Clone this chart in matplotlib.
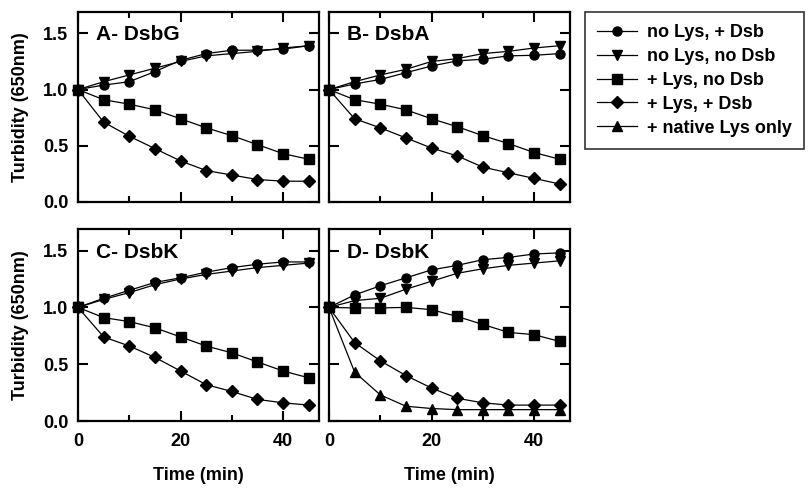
import numpy as np
import matplotlib
matplotlib.use("Agg")
import matplotlib.pyplot as plt
from matplotlib.ticker import FormatStrFormatter

plt.rcParams['font.family'] = ['Liberation Sans', 'DejaVu Sans']
plt.rcParams['font.weight'] = 'bold'

# ---------- data ----------
time = [0, 5, 10, 15, 20, 25, 30, 35, 40, 45]

series_labels = ["no Lys, + Dsb", "no Lys, no Dsb", "+ Lys, no Dsb", "+ Lys, + Dsb", "+ native Lys only"]
series_markers = ["o", "v", "s", "D", "^"]

panel_titles = ["A- DsbG", "B- DsbA", "C- DsbK", "D- DsbK"]

A_noLys_Dsb   = [1.0, 1.04, 1.07, 1.16, 1.26, 1.32, 1.35, 1.35, 1.36, 1.39]
A_noLys_noDsb = [1.0, 1.07, 1.13, 1.19, 1.25, 1.30, 1.32, 1.34, 1.37, 1.39]
A_Lys_noDsb   = [1.0, 0.91, 0.87, 0.82, 0.74, 0.66, 0.59, 0.51, 0.43, 0.38]
A_Lys_Dsb     = [1.0, 0.71, 0.585, 0.475, 0.365, 0.28, 0.24, 0.20, 0.185, 0.185]

B_noLys_Dsb   = [1.0, 1.05, 1.09, 1.15, 1.21, 1.255, 1.27, 1.30, 1.305, 1.32]
B_noLys_noDsb = [1.0, 1.07, 1.13, 1.18, 1.25, 1.275, 1.32, 1.34, 1.37, 1.39]
B_Lys_noDsb   = [1.0, 0.91, 0.87, 0.82, 0.74, 0.67, 0.59, 0.52, 0.44, 0.38]
B_Lys_Dsb     = [1.0, 0.74, 0.66, 0.57, 0.48, 0.41, 0.31, 0.26, 0.21, 0.16]

C_noLys_Dsb   = [1.0, 1.08, 1.15, 1.22, 1.26, 1.31, 1.35, 1.38, 1.40, 1.40]
C_noLys_noDsb = [1.0, 1.07, 1.13, 1.20, 1.25, 1.29, 1.32, 1.35, 1.37, 1.39]
C_Lys_noDsb   = [1.0, 0.91, 0.875, 0.82, 0.74, 0.66, 0.60, 0.52, 0.44, 0.38]
C_Lys_Dsb     = [1.0, 0.74, 0.66, 0.56, 0.44, 0.32, 0.26, 0.19, 0.16, 0.14]

D_noLys_Dsb   = [1.0, 1.11, 1.19, 1.26, 1.33, 1.37, 1.42, 1.44, 1.47, 1.48]
D_noLys_noDsb = [1.0, 1.06, 1.08, 1.16, 1.23, 1.30, 1.34, 1.37, 1.39, 1.41]
D_Lys_noDsb   = [1.0, 0.995, 0.995, 1.0, 0.98, 0.92, 0.85, 0.78, 0.76, 0.70]
D_Lys_Dsb     = [1.0, 0.69, 0.53, 0.40, 0.29, 0.20, 0.16, 0.14, 0.14, 0.14]
D_native_Lys  = [1.0, 0.43, 0.23, 0.13, 0.11, 0.10, 0.10, 0.10, 0.10, 0.10]

panels = [
    [A_noLys_Dsb, A_noLys_noDsb, A_Lys_noDsb, A_Lys_Dsb, None],
    [B_noLys_Dsb, B_noLys_noDsb, B_Lys_noDsb, B_Lys_Dsb, None],
    [C_noLys_Dsb, C_noLys_noDsb, C_Lys_noDsb, C_Lys_Dsb, None],
    [D_noLys_Dsb, D_noLys_noDsb, D_Lys_noDsb, D_Lys_Dsb, D_native_Lys],
]

# ---------- figure ----------
W, H = 809, 497
fig = plt.figure(figsize=(W / 100, H / 100), dpi=100)

def px_axes(x0, y0, x1, y1):
    # pixel box (top-left origin) -> figure fraction
    return fig.add_axes([x0 / W, 1 - y1 / H, (x1 - x0) / W, (y1 - y0) / H])

boxes = [(78, 12, 319, 202), (329, 12, 570, 202),
         (78, 229, 319, 421), (329, 229, 570, 421)]

for k, (box, data) in enumerate(zip(boxes, panels)):
    ax = px_axes(*box)
    handles = []
    for ys, m, lab in zip(data, series_markers, series_labels):
        if ys is None:
            h, = ax.plot([], [], color="black", lw=0.9, marker=m, ms=6.5, label=lab)
        else:
            h, = ax.plot(time, ys, color="black", lw=0.9, marker=m, ms=6.5,
                         mfc="black", mec="black", label=lab, clip_on=False)
        handles.append(h)
    ax.set_xlim(0, 47)
    ax.set_ylim(0, 1.69)
    ax.set_xticks([0, 20, 40])
    ax.set_xticks([10, 30], minor=True)
    ax.set_yticks([0, 0.5, 1.0, 1.5])
    ax.tick_params(which="both", direction="in", top=True, right=True, width=1.5)
    ax.tick_params(which="major", length=7, labelsize=13)
    ax.tick_params(axis="x", which="major", pad=9)
    ax.tick_params(axis="y", which="major", pad=7)
    ax.tick_params(which="minor", length=4.5)
    for s in ax.spines.values():
        s.set_linewidth(1.6)
    ax.text(0.075, 0.88, panel_titles[k], transform=ax.transAxes,
            fontsize=15, fontweight="bold", ha="left", va="center")
    if k in (0, 2):
        ax.yaxis.set_major_formatter(FormatStrFormatter("%.1f"))
        ax.set_ylabel("Turbidity (650nm)", fontsize=13, fontweight="bold")
        ax.yaxis.set_label_coords(-0.203, 0.5)
    else:
        ax.set_yticklabels([])
    if k in (2, 3):
        ax.set_xlabel("Time (min)", fontsize=13, fontweight="bold", va="top")
        ax.xaxis.set_label_coords(0.5, -0.238)
    else:
        ax.set_xticklabels([])
    if k == 3:
        leg_handles = handles

leg = fig.legend(leg_handles, series_labels, loc="upper left",
                 bbox_to_anchor=(585 / W, 1 - 12 / H), borderaxespad=0,
                 frameon=True, fancybox=False, edgecolor="black",
                 fontsize=13, handlelength=2.2, labelspacing=0.38,
                 borderpad=0.67, handletextpad=0.55)
leg.get_frame().set_linewidth(1.2)
for t in leg.get_texts():
    t.set_fontweight("bold")

fig.savefig("out.png", dpi=100)
